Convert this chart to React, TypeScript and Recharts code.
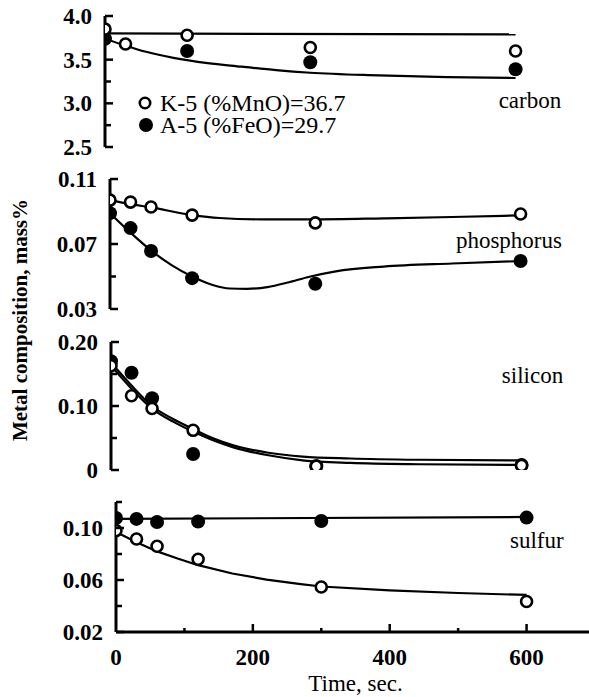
import React from 'react';
import {
  ComposedChart,
  Line,
  Scatter,
  XAxis,
  YAxis,
  Legend,
  ReferenceDot,
  Label,
  Surface,
  Text,
} from 'recharts';

const FONT = 'Liberation Serif, DejaVu Serif, serif';

// ---------- shared time axis ----------
const timeDomain = [0, 700];
const timeTicks = [0, 100, 200, 300, 400, 500, 600];
const timeLabelValues = [0, 200, 400, 600];
const timeLabelTexts = ['0', '200', '400', '600'];
const timeTitle = 'Time, sec.';
const yTitle = 'Metal composition, mass%';

const legendLabels = ['K-5 (%MnO)=36.7', 'A-5 (%FeO)=29.7'];

// ---------- carbon ----------
const carbonTimesK = [0, 30, 120, 300, 600];
const carbonK = [3.85, 3.68, 3.78, 3.64, 3.6];
const carbonTimesA = [0, 120, 300, 600];
const carbonA = [3.74, 3.6, 3.47, 3.39];
const carbonFitTimesK = [0, 600];
const carbonFitK = [3.8, 3.79];
const carbonFitTimesA = [0, 30, 60, 100, 150, 200, 250, 300, 400, 500, 600];
const carbonFitA = [3.74, 3.66, 3.59, 3.52, 3.46, 3.42, 3.38, 3.35, 3.32, 3.3, 3.29];
const carbonTicks = [2.5, 2.75, 3.0, 3.25, 3.5, 3.75, 4.0];
const carbonLabelValues = [2.5, 3.0, 3.5, 4.0];
const carbonLabelTexts = ['2.5', '3.0', '3.5', '4.0'];

// ---------- phosphorus ----------
const phosTimesK = [0, 30, 60, 120, 300, 600];
const phosK = [0.097, 0.0958, 0.0928, 0.0878, 0.083, 0.0885];
const phosTimesA = [0, 30, 60, 120, 300, 600];
const phosA = [0.089, 0.0798, 0.0657, 0.049, 0.0455, 0.0595];
const phosFitTimesK = [0, 30, 60, 120, 160, 220, 300, 400, 500, 600];
const phosFitK = [0.097, 0.0945, 0.0925, 0.0878, 0.086, 0.0852, 0.0852, 0.0858, 0.0866, 0.0876];
const phosFitTimesA = [0, 30, 60, 90, 120, 150, 175, 200, 230, 260, 290, 330, 400, 500, 600];
const phosFitA = [0.089, 0.077, 0.066, 0.057, 0.05, 0.0448, 0.0426, 0.0424, 0.0435, 0.0463, 0.0497, 0.0532, 0.0561, 0.058, 0.0595];
const phosTicks = [0.03, 0.05, 0.07, 0.09, 0.11];
const phosLabelValues = [0.03, 0.07, 0.11];
const phosLabelTexts = ['0.03', '0.07', '0.11'];

// ---------- silicon ----------
const siTimesK = [0, 30, 60, 120, 300, 600];
const siK = [0.163, 0.116, 0.096, 0.062, 0.006, 0.007];
const siTimesA = [0, 30, 60, 120, 300, 600];
const siA = [0.17, 0.152, 0.112, 0.025, 0.006, 0.008];
const siFitTimesA = [0, 30, 60, 90, 120, 150, 180, 230, 280, 350, 450, 600];
const siFitA = [0.168, 0.132, 0.1, 0.08, 0.064, 0.049, 0.038, 0.027, 0.021, 0.018, 0.016, 0.015];
const siFitTimesK = [0, 30, 60, 90, 120, 150, 180, 230, 280, 350, 450, 600];
const siFitK = [0.163, 0.127, 0.096, 0.076, 0.06, 0.046, 0.035, 0.023, 0.015, 0.011, 0.009, 0.008];
const siTicks = [0, 0.05, 0.1, 0.15, 0.2];
const siLabelValues = [0, 0.1, 0.2];
const siLabelTexts = ['0', '0.10', '0.20'];

// ---------- sulfur ----------
const sTimesK = [0, 30, 60, 120, 300, 600];
const sK = [0.098, 0.0915, 0.086, 0.076, 0.0546, 0.0435];
const sTimesA = [0, 30, 60, 120, 300, 600];
const sA = [0.1077, 0.107, 0.1046, 0.105, 0.1054, 0.108];
const sFitTimesA = [0, 600];
const sFitA = [0.107, 0.1085];
const sFitTimesK = [0, 30, 60, 90, 120, 170, 220, 270, 300, 400, 500, 600];
const sFitK = [0.097, 0.089, 0.082, 0.0765, 0.0714, 0.065, 0.0603, 0.0568, 0.055, 0.052, 0.05, 0.0485];
const sTicks = [0.02, 0.04, 0.06, 0.08, 0.1, 0.12];
const sLabelValues = [0.02, 0.06, 0.1];
const sLabelTexts = ['0.02', '0.06', '0.10'];

const zip = (ts: number[], vs: number[]) => ts.map((t, i) => ({ t, v: vs[i] }));

const findLabel = (v: number, values: number[], texts: string[]) => {
  const i = values.findIndex((x) => Math.abs(x - v) < 1e-9);
  return i >= 0 ? texts[i] : null;
};

const OpenDot = (p: any) =>
  p.cx == null ? null : (
    <circle cx={p.cx} cy={p.cy} r={5.5} fill="#fff" stroke="#000" strokeWidth={2.6} />
  );
const FilledDot = (p: any) =>
  p.cx == null ? null : <circle cx={p.cx} cy={p.cy} r={7} fill="#000" />;

const YTick = (props: any) => {
  const { x, y, payload, labelValues, labelTexts } = props;
  const txt = findLabel(payload.value, labelValues, labelTexts);
  return (
    <g>
      <line x1={x} x2={x + (txt ? 8 : 6)} y1={y} y2={y} stroke="#000" strokeWidth={2.5} />
      {txt && (
        <text
          x={x - 13}
          y={y}
          dy="0.35em"
          textAnchor="end"
          style={{ fontFamily: FONT }}
          fontSize={23}
          fontWeight="bold"
          fill="#000"
        >
          {txt}
        </text>
      )}
    </g>
  );
};

const XTick = (props: any) => {
  const { x, y, payload, showLabel } = props;
  const txt = findLabel(payload.value, timeLabelValues, timeLabelTexts);
  const len = txt ? 8 : 4;
  return (
    <g>
      {payload.value > 0 && (
        <line x1={x} x2={x} y1={y} y2={y - len} stroke="#000" strokeWidth={2.5} />
      )}
      {showLabel && txt && (
        <text
          x={x}
          y={y + 17}
          dy="0.71em"
          textAnchor="middle"
          style={{ fontFamily: FONT }}
          fontSize={23}
          fontWeight="bold"
          fill="#000"
        >
          {txt}
        </text>
      )}
    </g>
  );
};

const renderLegend = () => (
  <div style={{ fontFamily: FONT, fontSize: 24, color: '#000', lineHeight: '22px' }}>
    {legendLabels.map((lab, i) => (
      <div key={lab} style={{ display: 'flex', alignItems: 'center', height: 22, whiteSpace: 'nowrap' }}>
        <svg width={16} height={16} style={{ marginRight: 7 }}>
          {i === 0 ? (
            <circle cx={8} cy={8} r={5.2} fill="#fff" stroke="#000" strokeWidth={2.6} />
          ) : (
            <circle cx={9} cy={8} r={7} fill="#000" />
          )}
        </svg>
        <span>{lab}</span>
      </div>
    ))}
  </div>
);

type PanelProps = {
  plotTop: number;
  left: number;
  plotH: number;
  showX: boolean;
  domain: number[];
  ticks: number[];
  labelValues: number[];
  labelTexts: string[];
  kPts: { t: number; v: number }[];
  aPts: { t: number; v: number }[];
  kFit: { t: number; v: number }[];
  aFit: { t: number; v: number }[];
  kFitLinear?: boolean;
  name: string;
  nameAt: [number, number];
  legend?: boolean;
};

const CHART_W = 600;
const PLOT_W = 479;
const PAD = 20;

const Panel = (p: PanelProps) => {
  const xh = p.showX ? 60 : 0;
  const bottomPad = p.showX ? 5 : PAD;
  const height = PAD + p.plotH + xh + bottomPad;
  const frame = { stroke: '#000', strokeWidth: 3 };
  return (
    <div style={{ position: 'absolute', left: 0, top: p.plotTop - PAD }}>
      <ComposedChart
        width={CHART_W}
        height={height}
        margin={{ top: PAD, right: CHART_W - p.left - PLOT_W, bottom: bottomPad, left: 0 }}
      >
        <XAxis
          xAxisId="b"
          dataKey="t"
          type="number"
          domain={timeDomain}
          ticks={timeTicks}
          interval={0}
          allowDataOverflow
          height={xh}
          tickSize={0}
          tickMargin={0}
          tickLine={false}
          axisLine={frame}
          tick={<XTick showLabel={p.showX} />}
        >
          {p.showX && (
            <Label
              value={timeTitle}
              position="insideBottom"
              offset={1}
              style={{ fontFamily: FONT }}
              fontSize={23}
              fill="#000"
            />
          )}
        </XAxis>
        <XAxis
          xAxisId="top"
          orientation="top"
          type="number"
          domain={timeDomain}
          allowDataOverflow
          height={0}
          tick={false}
          tickLine={false}
          axisLine={frame}
        />
        <YAxis
          yAxisId="l"
          dataKey="v"
          type="number"
          domain={p.domain}
          ticks={p.ticks}
          interval={0}
          allowDataOverflow
          width={p.left}
          tickSize={0}
          tickMargin={0}
          tickLine={false}
          axisLine={frame}
          tick={<YTick labelValues={p.labelValues} labelTexts={p.labelTexts} />}
        />
        <YAxis
          yAxisId="r"
          orientation="right"
          type="number"
          domain={p.domain}
          allowDataOverflow
          width={0}
          tick={false}
          tickLine={false}
          axisLine={frame}
        />
        <Line
          xAxisId="b"
          yAxisId="l"
          data={p.kFit}
          dataKey="v"
          type={p.kFitLinear ? 'linear' : 'monotone'}
          stroke="#000"
          strokeWidth={2.2}
          dot={false}
          activeDot={false}
          legendType="none"
          isAnimationActive={false}
        />
        <Line
          xAxisId="b"
          yAxisId="l"
          data={p.aFit}
          dataKey="v"
          type="monotone"
          stroke="#000"
          strokeWidth={2.2}
          dot={false}
          activeDot={false}
          legendType="none"
          isAnimationActive={false}
        />
        <Scatter
          xAxisId="b"
          yAxisId="l"
          name={legendLabels[1]}
          data={p.aPts}
          dataKey="v"
          shape={FilledDot}
          isAnimationActive={false}
        />
        <Scatter
          xAxisId="b"
          yAxisId="l"
          name={legendLabels[0]}
          data={p.kPts}
          dataKey="v"
          shape={OpenDot}
          isAnimationActive={false}
        />
        <ReferenceDot
          xAxisId="b"
          yAxisId="l"
          x={p.nameAt[0]}
          y={p.nameAt[1]}
          r={0}
          fill="none"
          stroke="none"
          label={{ value: p.name, position: 'center', style: { fontFamily: FONT }, fontSize: 23, fill: '#000' }}
        />
        {p.legend && (
          <Legend
            layout="horizontal"
            verticalAlign="middle"
            align="center"
            content={renderLegend}
            wrapperStyle={{ left: 137, top: 92 - (16 - PAD), width: 'auto' }}
          />
        )}
      </ComposedChart>
    </div>
  );
};

export default function App() {
  return (
    <div
      style={{
        position: 'absolute',
        left: 0,
        top: 0,
        width: 589,
        height: 697,
        overflow: 'hidden',
        background: '#fff',
      }}
    >
      <div style={{ position: 'absolute', left: 0, top: 0 }}>
        <Surface width={44} height={697}>
          <Text
            x={20}
            y={320}
            angle={-90}
            textAnchor="middle"
            verticalAnchor="middle"
            style={{ fontFamily: FONT }}
            fontSize={21}
            fontWeight="bold"
            fill="#000"
          >
            {yTitle}
          </Text>
        </Surface>
      </div>
      <Panel
        plotTop={16}
        left={105}
        plotH={131}
        showX={false}
        domain={[2.5, 4.0]}
        ticks={carbonTicks}
        labelValues={carbonLabelValues}
        labelTexts={carbonLabelTexts}
        kPts={zip(carbonTimesK, carbonK)}
        aPts={zip(carbonTimesA, carbonA)}
        kFit={zip(carbonFitTimesK, carbonFitK)}
        aFit={zip(carbonFitTimesA, carbonFitA)}
        kFitLinear
        name="carbon"
        nameAt={[621, 3.04]}
        legend
      />
      <Panel
        plotTop={179}
        left={110}
        plotH={130}
        showX={false}
        domain={[0.03, 0.11]}
        ticks={phosTicks}
        labelValues={phosLabelValues}
        labelTexts={phosLabelTexts}
        kPts={zip(phosTimesK, phosK)}
        aPts={zip(phosTimesA, phosA)}
        kFit={zip(phosFitTimesK, phosFitK)}
        aFit={zip(phosFitTimesA, phosFitA)}
        name="phosphorus"
        nameAt={[583, 0.0725]}
      />
      <Panel
        plotTop={342}
        left={111}
        plotH={128}
        showX={false}
        domain={[0, 0.2]}
        ticks={siTicks}
        labelValues={siLabelValues}
        labelTexts={siLabelTexts}
        kPts={zip(siTimesK, siK)}
        aPts={zip(siTimesA, siA)}
        kFit={zip(siFitTimesK, siFitK)}
        aFit={zip(siFitTimesA, siFitA)}
        name="silicon"
        nameAt={[616, 0.148]}
      />
      <Panel
        plotTop={502}
        left={116}
        plotH={130}
        showX={true}
        domain={[0.02, 0.12]}
        ticks={sTicks}
        labelValues={sLabelValues}
        labelTexts={sLabelTexts}
        kPts={zip(sTimesK, sK)}
        aPts={zip(sTimesA, sA)}
        kFit={zip(sFitTimesK, sFitK)}
        aFit={zip(sFitTimesA, sFitA)}
        kFitLinear
        name="sulfur"
        nameAt={[615, 0.0908]}
      />
    </div>
  );
}
